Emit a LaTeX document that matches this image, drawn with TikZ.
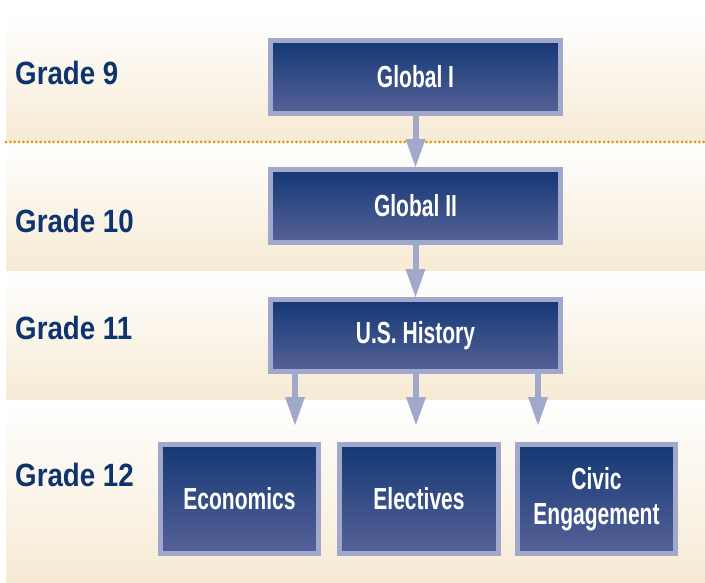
\documentclass[tikz,border=0pt]{standalone}
\usepackage{fontspec}
\newfontfamily\gradefont[FakeStretch=0.86]{Liberation Sans}
\newfontfamily\boxfont[FakeStretch=0.69]{Liberation Sans}
\usetikzlibrary{positioning,arrows.meta}
\definecolor{navy}{RGB}{20,56,116}
\definecolor{navylight}{RGB}{86,98,152}
\definecolor{lavender}{RGB}{162,168,204}
\definecolor{cream}{RGB}{246,234,212}
\definecolor{gradeblue}{RGB}{14,52,112}
\definecolor{dotorange}{RGB}{222,150,20}

\begin{document}
\begin{tikzpicture}
    [x=0.03cm,y=-0.03cm,
     band/.style={top color=white, bottom color=cream},
     course/.style={draw=lavender, line width=0.15cm, top color=navy, bottom color=navylight,
       text=white, align=center, inner sep=0pt, font=\boxfont\bfseries\fontsize{26}{30}\selectfont},
     grade/.style={anchor=west, inner sep=0pt, text=gradeblue, font=\gradefont\bfseries\fontsize{27.5}{32}\selectfont},
     flow/.style={draw=lavender, line width=0.18cm, -{Triangle[length=0.84cm, width=0.6cm, line width=0pt]}}]
  \useasboundingbox (0,0) rectangle (705,582);

  % bands behind the grades
  \fill[band] (6,15) rectangle (705,142);
  \fill[band] (6,142) rectangle (705,271);
  \fill[band] (6,271) rectangle (705,400);
  \fill[band] (6,400) rectangle (705,582);
  \draw[dotorange, line width=0.09cm, line cap=round, dash pattern=on 0pt off 0.13cm] (6,142) -- (705,142);

  \node[grade] (l1) at (15,73) {Grade 9};
  \node[grade] (l2) at (15,221) {Grade 10};
  \node[grade] (l3) at (15,328) {Grade 11};
  \node[grade] (l4) at (15,475) {Grade 12};

  \node[course, minimum width=8.7cm, minimum height=2.19cm] (n1) at (415.5,77) {Global I};
  \node[course, minimum width=8.7cm, minimum height=2.19cm] (n2) at (415.5,206) {Global II};
  \node[course, minimum width=8.7cm, minimum height=2.16cm] (n3) at (415.5,335.5) {U.S. History};
  \node[course, minimum width=4.74cm, minimum height=3.27cm] (n4) at (239.5,499) {Economics};
  \node[course, minimum width=4.77cm, minimum height=3.27cm] (n5) at (419,499) {Electives};
  \node[course, minimum width=4.74cm, minimum height=3.27cm] (n6) at (596.5,499) {Civic\\Engagement};

  \coordinate (c1) at (295,425);
  \coordinate (c2) at (416,425);
  \coordinate (c3) at (538,425);

  \foreach \from/\to in {n1/n2, n2/n3}
    \draw[flow] (\from) -- (\to);

  \foreach \tip in {c1, c2, c3}
    \draw[flow] (\tip |- n3.south) -- (\tip);
\end{tikzpicture}
\end{document}
